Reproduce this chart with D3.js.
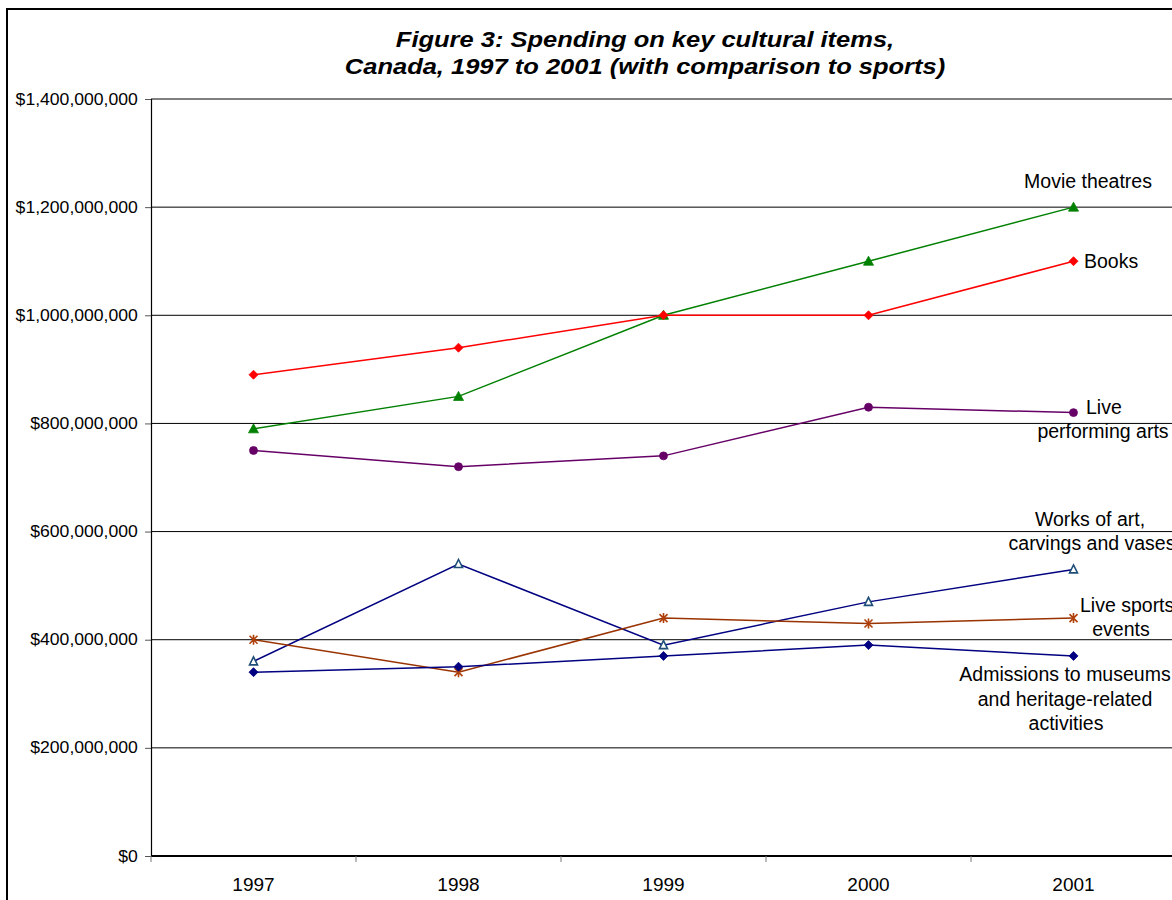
<!DOCTYPE html>
<html>
<head>
<meta charset="utf-8">
<script src="https://cdn.jsdelivr.net/npm/d3@7"></script>
<style>
  html, body { margin: 0; padding: 0; background: #fff; }
  svg { display: block; font-family: Arial, "Liberation Sans", sans-serif; }
</style>
</head>
<body>
<svg id="chart" width="1172" height="900"></svg>
<script>
// Years on the category axis
const years = ["1997", "1998", "1999", "2000", "2001"];

// Annual spending in dollars for each item
const movieTheatres   = [790e6, 850e6, 1000e6, 1100e6, 1200e6];
const books           = [890e6, 940e6, 1000e6, 1000e6, 1100e6];
const livePerforming  = [750e6, 720e6, 740e6, 830e6, 820e6];
const worksOfArt      = [360e6, 540e6, 390e6, 470e6, 530e6];
const liveSports      = [400e6, 340e6, 440e6, 430e6, 440e6];
const museums         = [340e6, 350e6, 370e6, 390e6, 370e6];

// Value axis ticks
const yTicks = [0, 200e6, 400e6, 600e6, 800e6, 1000e6, 1200e6, 1400e6];

const series = [
  { name: "Movie theatres", values: movieTheatres, color: "#008000", marker: "triangle", fill: "#008000", mstroke: "#008000",
    label: [{ t: "Movie theatres", x: 1088, y: 188, a: "middle" }] },
  { name: "Books", values: books, color: "#FF0000", marker: "diamond", fill: "#FF0000", mstroke: "#FF0000",
    label: [{ t: "Books", x: 1084, y: 268, a: "start" }] },
  { name: "Live performing arts", values: livePerforming, color: "#660066", marker: "circle", fill: "#660066", mstroke: "#660066",
    label: [{ t: "Live", x: 1086, y: 414, a: "start" }, { t: "performing arts", x: 1103, y: 438, a: "middle" }] },
  { name: "Works of art, carvings and vases", values: worksOfArt, color: "#000080", marker: "opentriangle", fill: "#fff", mstroke: "#1F4E79",
    label: [{ t: "Works of art,", x: 1090, y: 526, a: "middle" }, { t: "carvings and vases", x: 1092, y: 550, a: "middle" }] },
  { name: "Live sports events", values: liveSports, color: "#993300", marker: "asterisk", fill: "none", mstroke: "#B0400A",
    label: [{ t: "Live sports", x: 1080, y: 612, a: "start" }, { t: "events", x: 1121, y: 636, a: "middle" }] },
  { name: "Admissions to museums and heritage-related activities", values: museums, color: "#000080", marker: "diamond", fill: "#000080", mstroke: "#000080",
    label: [{ t: "Admissions to museums", x: 1065, y: 681, a: "middle" }, { t: "and heritage-related", x: 1065, y: 706, a: "middle" }, { t: "activities", x: 1066, y: 730, a: "middle" }] }
];

const svg = d3.select("#chart");

// Outer chart frame
svg.append("rect")
  .attr("x", 7).attr("y", 9).attr("width", 1300).attr("height", 1000)
  .attr("fill", "#fff").attr("stroke", "#000").attr("stroke-width", 2);

const plot = { left: 151, right: 1176, top: 99, bottom: 856 };

const x = d3.scaleBand().domain(years).range([plot.left, plot.right]).padding(0);
const cx = d => x(d) + x.bandwidth() / 2;
const y = d3.scaleLinear().domain([0, 1400e6]).range([plot.bottom, plot.top]);

// Horizontal gridlines
svg.append("g")
  .selectAll("line")
  .data(yTicks.slice(1))
  .join("line")
  .attr("x1", plot.left).attr("x2", plot.right + 20)
  .attr("y1", d => y(d)).attr("y2", d => y(d))
  .attr("stroke", "#000").attr("stroke-width", 1);

// Value axis (labels are set slightly wide)
const yAxis = d3.axisLeft(y)
  .tickValues(yTicks)
  .tickSize(6)
  .tickPadding(6)
  .tickFormat(d => "$" + d3.format(",")(d));
const gy = svg.append("g").attr("transform", `translate(${plot.left},0)`).call(yAxis);
gy.select(".domain").attr("stroke", "#000").attr("stroke-width", 1.2);
gy.selectAll(".tick line").attr("stroke", "#555");
gy.selectAll("text").attr("font-size", 16).attr("fill", "#000")
  .attr("font-family", "Arial, 'Liberation Sans', sans-serif")
  .attr("transform", "scale(1.1,1)");

// Category axis: baseline, boundary ticks and year labels
svg.append("line")
  .attr("x1", plot.left).attr("x2", plot.right + 20)
  .attr("y1", y(0)).attr("y2", y(0))
  .attr("stroke", "#000").attr("stroke-width", 2);

const bounds = years.map(d => x(d)).concat([x.range()[1]]);
svg.append("g").selectAll("line")
  .data(bounds)
  .join("line")
  .attr("x1", d => d).attr("x2", d => d)
  .attr("y1", y(0)).attr("y2", y(0) + 6)
  .attr("stroke", "#777").attr("stroke-width", 1);

svg.append("g").selectAll("text")
  .data(years)
  .join("text")
  .attr("x", d => cx(d)).attr("y", y(0) + 35)
  .attr("text-anchor", "middle")
  .attr("font-size", 19)
  .text(d => d);

// Series lines
const line = d3.line().x((v, i) => cx(years[i])).y(v => y(v));
svg.append("g").selectAll("path")
  .data(series)
  .join("path")
  .attr("d", s => line(s.values))
  .attr("fill", "none")
  .attr("stroke", s => s.color)
  .attr("stroke-width", 1.5);

// Markers
function markerPath(type) {
  switch (type) {
    case "diamond": return "M0,-4.5L4.5,0L0,4.5L-4.5,0Z";
    case "triangle": return "M0,-5L5,4L-5,4Z";
    case "opentriangle": return "M0,-4.5L4,3.5L-4,3.5Z";
    case "circle": return d3.symbol(d3.symbolCircle, 50)();
    case "asterisk": return "M-4,-4L4,4M-4,4L4,-4M0,-5L0,5";
  }
}
series.forEach(s => {
  svg.append("g").selectAll("path")
    .data(s.values)
    .join("path")
    .attr("transform", (v, i) => `translate(${cx(years[i])},${y(v)})`)
    .attr("d", markerPath(s.marker))
    .attr("fill", s.fill)
    .attr("stroke", s.mstroke)
    .attr("stroke-width", s.marker === "opentriangle" || s.marker === "asterisk" ? 1.6 : 0.8);
});

// Series labels
series.forEach(s => {
  svg.append("g").selectAll("text")
    .data(s.label)
    .join("text")
    .attr("x", d => d.x).attr("y", d => d.y)
    .attr("text-anchor", d => d.a)
    .attr("font-size", 19.5)
    .text(d => d.t);
});

// Title (wide bold italic)
const title = svg.append("text")
  .attr("transform", "translate(645,0) scale(1.133,1)")
  .attr("text-anchor", "middle")
  .attr("font-size", 22.5)
  .attr("font-weight", "bold")
  .attr("font-style", "italic");
title.append("tspan").attr("x", 0).attr("y", 47.5).text("Figure 3: Spending on key cultural items,");
title.append("tspan").attr("x", 0).attr("y", 74.5).text("Canada, 1997 to 2001 (with comparison to sports)");
</script>
</body>
</html>
